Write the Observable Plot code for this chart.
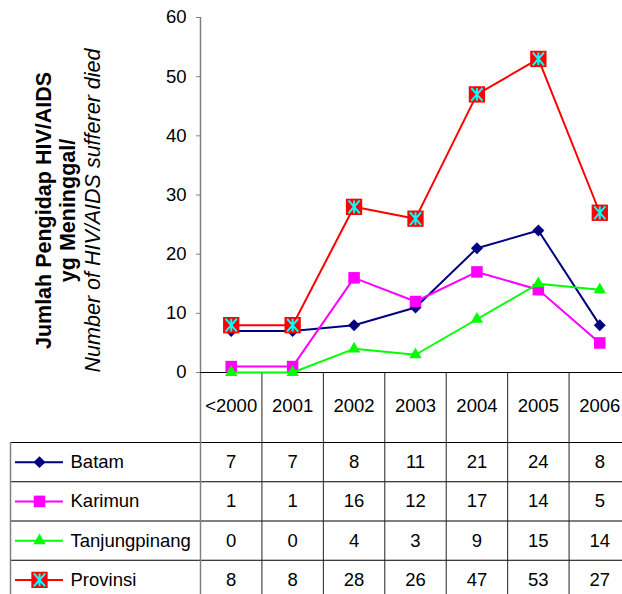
<!DOCTYPE html>
<html>
<head>
<meta charset="utf-8">
<script src="https://cdn.jsdelivr.net/npm/d3@7"></script>
<script src="https://cdn.jsdelivr.net/npm/@observablehq/plot@0.6"></script>
<style>
  body { margin: 0; background: #fff; }
  #chart svg { display: block; }
</style>
</head>
<body>
<div id="chart"></div>
<script>
// ---- data ----
const categories = ["<2000", "2001", "2002", "2003", "2004", "2005", "2006"];
const seriesNames = ["Batam", "Karimun", "Tanjungpinang", "Provinsi"];
const batam = [7, 7, 8, 11, 21, 24, 8];
const karimun = [1, 1, 16, 12, 17, 14, 5];
const tanjungpinang = [0, 0, 4, 3, 9, 15, 14];
const provinsi = [8, 8, 28, 26, 47, 53, 27];
const yTicks = [0, 10, 20, 30, 40, 50, 60];
const titleLines = ["Jumlah Pengidap HIV/AIDS", "yg Meninggal/", "Number of HIV/AIDS sufferer died"];

// ---- styles ----
const FONT = "'Liberation Sans', Arial, Helvetica, sans-serif";
const FS = 18.5;
const asterisk = {
  draw(ctx, size) {
    const r = Math.sqrt(size / Math.PI);
    const w = r * 0.88;
    ctx.moveTo(0, -r); ctx.lineTo(0, r);
    ctx.moveTo(-w, -r); ctx.lineTo(w, r);
    ctx.moveTo(w, -r); ctx.lineTo(-w, r);
  }
};
const seriesValues = [batam, karimun, tanjungpinang, provinsi];
const seriesStyle = [
  {color: "#000080", symbol: "diamond2", r: 5.4, fill: "#000080"},
  {color: "#FF00FF", symbol: "square", r: 6.5, fill: "#FF00FF"},
  {color: "#00FF00", symbol: "triangle", r: 4.6, fill: "#00FF00"},
  {color: "#FF0000", symbol: "square", r: 9.2, fill: "#FF0000", star: true}
];
const series = seriesNames.map((name, k) => ({name, values: seriesValues[k], ...seriesStyle[k]}));
const idx = categories.map((c, i) => i);
const dividers = idx.map(i => i + 0.5);
const xScale = {type: "linear", domain: [-0.5, categories.length - 0.5], range: [200, 630]};

function markerMarks(data, s, opts) {
  const m = [Plot.dot(data, {...opts, symbol: s.symbol, r: s.r, fill: s.fill, stroke: "none"})];
  if (s.star) m.push(Plot.dot(data, {...opts, symbol: asterisk, r: 6.4, fill: "none", stroke: "#00FFFF", strokeWidth: 2}));
  return m;
}

// ---- chart ----
const chart = Plot.plot({
  width: 622,
  height: 442,
  marginTop: 17,
  marginBottom: 70,
  marginLeft: 200,
  marginRight: 0,
  style: {fontFamily: FONT, fontSize: FS + "px", background: "#fff", color: "#000"},
  x: xScale,
  y: {domain: [0, 60]},
  marks: [
    Plot.ruleX(dividers, {stroke: "#222", insetTop: 355, insetBottom: -70}),
    Plot.ruleX([-0.5], {stroke: "#808080", strokeWidth: 1.5, insetBottom: -70}),
    Plot.ruleY([0], {stroke: "#000", insetLeft: -4}),
    Plot.axisY(yTicks, {tickSize: 4, tickPadding: 10, stroke: "#808080", fill: "#000", fontSize: FS, label: null}),
    Plot.axisX(idx, {tickSize: 0, tickPadding: 26, tickFormat: i => categories[i], fontSize: FS, label: null}),
    ...titleLines.map((t, j) => Plot.text([t], {
      frameAnchor: "left",
      text: d => d,
      rotate: -90,
      textAnchor: "middle",
      dx: [-156, -132, -107][j],
      dy: 15.5,
      fontSize: 21.5,
      fontWeight: j < 2 ? "bold" : "normal",
      fontStyle: j === 2 ? "italic" : "normal",
      fill: "#000"
    })),
    ...series.flatMap(s => {
      const d = s.values.map((v, i) => ({i, v}));
      return [
        Plot.line(d, {x: "i", y: "v", stroke: s.color, strokeWidth: 2}),
        ...markerMarks(d, s, {x: "i", y: "v"})
      ];
    })
  ]
});

// ---- data table ----
const cells = series.flatMap((s, k) => s.values.map((v, i) => ({i, k, v})));
const table = Plot.plot({
  width: 622,
  height: 152,
  marginTop: 0,
  marginBottom: 0,
  marginLeft: 10,
  marginRight: 0,
  style: {fontFamily: FONT, fontSize: FS + "px", background: "#fff", color: "#000"},
  x: {...xScale, axis: null},
  y: {type: "linear", domain: [0, seriesNames.length], range: [0, 157], axis: null},
  marks: [
    Plot.ruleY(d3.range(seriesNames.length + 1), {stroke: "#000"}),
    Plot.frame({anchor: "left", stroke: "#808080", strokeWidth: 1.5}),
    Plot.ruleX([-0.5], {stroke: "#808080", strokeWidth: 1.5}),
    Plot.ruleX(dividers, {stroke: "#222"}),
    ...series.flatMap((s, k) => {
      const d = [{k}];
      return [
        Plot.ruleY(d, {y: d => d.k + 0.5, stroke: s.color, strokeWidth: 2, insetLeft: 5, insetRight: 559}),
        ...markerMarks(d, s, {frameAnchor: "left", y: d => d.k + 0.5, dx: 29}),
        Plot.text(d, {frameAnchor: "left", y: d => d.k + 0.5, dx: 60, text: () => s.name, textAnchor: "start", fontSize: FS, fill: "#000"})
      ];
    }),
    Plot.text(cells, {x: "i", y: d => d.k + 0.5, text: d => String(d.v), fontSize: FS, fill: "#000"})
  ]
});

const root = document.getElementById("chart");
root.append(chart, table);
</script>
</body>
</html>
